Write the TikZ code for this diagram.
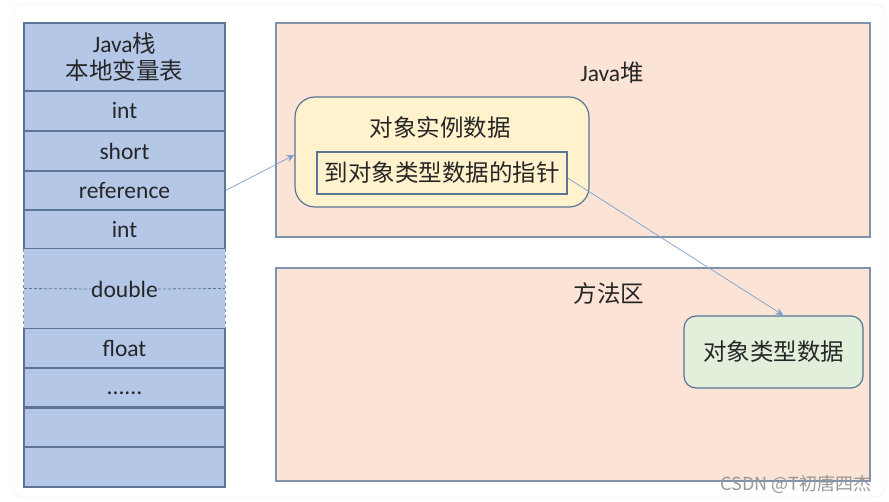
\documentclass[tikz,border=0pt]{standalone}
\usepackage{fontspec}
\setmainfont{Carlito}
\newfontfamily\cjk{Noto Sans CJK SC}
\usetikzlibrary{positioning, arrows.meta}

\definecolor{stackfill}{HTML}{B4C7E7}
\definecolor{stackline}{HTML}{5B7596}
\definecolor{heapfill}{HTML}{FBE3D6}
\definecolor{boxline}{HTML}{7F93AD}
\definecolor{objfill}{HTML}{FFF2CC}
\definecolor{klassfill}{HTML}{E2EFDA}
\definecolor{arrowcol}{HTML}{7FA0CC}
\definecolor{txt}{HTML}{262626}

\tikzset{
  lbl/.style = {font=\fontsize{23.5}{27}\selectfont, text=txt, inner sep=0pt},
  stackrow/.style = {draw=stackline, fill=stackfill, line width=1.2pt,
                     minimum width=201pt, inner sep=0pt, lbl},
  area/.style = {draw=boxline, fill=heapfill, line width=1.2pt,
                 minimum width=594pt, minimum height=214pt, inner sep=0pt},
  ptr/.style = {draw=arrowcol, line width=0.7pt, -{Stealth[length=8pt, width=7pt]}}
}

\begin{document}
\begin{tikzpicture}[x=1pt, y=-1pt]
  \useasboundingbox (0,0) rectangle (889,502);
  % 背景のカード
  \draw [black!8, fill=white, rounded corners=10pt] (13,4) rectangle (885,497);

  % Java栈
  \node [stackrow, minimum height=68pt, align=center] (head) at (124.5,57)
        {Java{\cjk 栈}\\{\cjk 本地变量表}};
  \foreach \name/\y/\h/\txt in {int1/111/40/int, short/151/40/short,
        ref/190.5/39/reference, int2/229.5/39/int, float/348/40/float,
        e1/427/40/{}, e2/467/40/{}}
    \node [stackrow, minimum height=\h pt] (\name) at (124.5,\y) {\txt};
  \node [stackrow, minimum height=39pt] (dots) at (124.5,387.5) {};
  \node [lbl, anchor=base] (dotslbl) at (124.5,395) {......};

  % double (2 slots)
  \node [fill=stackfill, minimum width=201pt, minimum height=79pt, inner sep=0pt]
        (dblrow) at (124.5,288.5) {};
  \draw [stackline!80, dashed, line width=0.8pt]
        (dblrow.north west) -- (dblrow.south west)
        (dblrow.north east) -- (dblrow.south east);
  \node [lbl] (dbl) at (124.5,289) {double};
  \draw [stackline, densely dashed, line width=0.8pt] (dblrow.west) -- (dbl.west);
  \draw [stackline, densely dashed, line width=0.8pt] (dbl.east) -- (dblrow.east);
  \draw [stackline, line width=2.2pt] (dots.south west) -- (dots.south east);

  % Java堆
  \node [area] (heap) at (573,130) {};
  \node [lbl] (heaplbl) at (612,73) {Java{\cjk 堆}};

  \node [draw=stackline, fill=objfill, line width=1.2pt, rounded corners=20pt,
         minimum width=294pt, minimum height=110pt] (obj) at (442,152) {};
  \node [lbl] (objlbl) at (440,128) {\cjk 对象实例数据};
  \node [draw=stackline, line width=1.2pt, minimum width=250pt,
         minimum height=42pt, lbl] (field) at (442,173) {\cjk 到对象类型数据的指针};

  % 方法区
  \node [area, minimum height=213pt] (method) at (573,374.5) {};
  \node [lbl] (methodlbl) at (609,294) {\cjk 方法区};
  \node [draw=stackline, fill=klassfill, line width=1.2pt, rounded corners=12pt,
         minimum width=179pt, minimum height=72pt, lbl] (klass) at (773.5,352)
        {\cjk 对象类型数据};

  % 矢印
  \draw [ptr] (ref.east) -- ([yshift=-3pt]obj.west);
  \draw [ptr] ([yshift=-5pt]field.east) -- ([xshift=10pt]klass.north);

  \node [font=\cjk\fontsize{18}{20}\selectfont, text=black!40, inner sep=0pt]
        (mark) at (796,484) {CSDN @T初唐四杰};
\end{tikzpicture}
\end{document}
